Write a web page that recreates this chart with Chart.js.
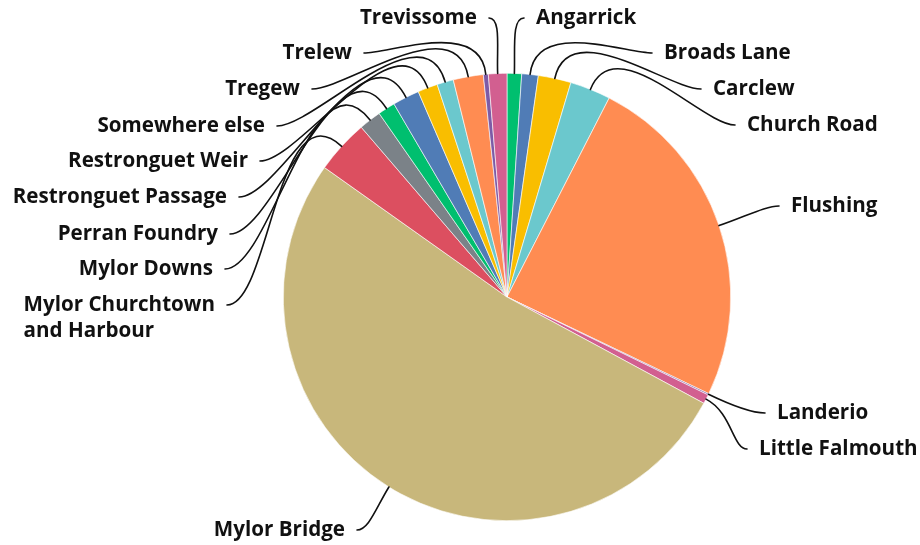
<!DOCTYPE html>
<html>
<head>
<meta charset="utf-8">
<script src="https://cdn.jsdelivr.net/npm/chart.js@4.4.0/dist/chart.umd.min.js"></script>
<style>
  html, body { margin: 0; padding: 0; background: #fff; }
  #wrap { width: 920px; height: 545px; position: relative; }
</style>
</head>
<body>
<div id="wrap"><canvas id="pie"></canvas></div>
<script>
/* ---- data (clockwise from 12 o'clock) ---- */
const categories = [
  'Angarrick', 'Broads Lane', 'Carclew', 'Church Road', 'Flushing',
  'Landerio', 'Little Falmouth', 'Mylor Bridge', 'Mylor Churchtown\nand Harbour',
  'Mylor Downs', 'Perran Foundry', 'Restronguet Passage', 'Restronguet Weir',
  'Somewhere else', 'Tregew', 'Trelew', 'Trevissome'
];
const shares = [
  1.05, 1.19, 2.37, 2.94, 24.56,
  0.1, 0.67, 51.94, 3.89,
  1.61, 1.25, 1.94, 1.44,
  1.19, 2.17, 0.36, 1.33
];

/* ---- styling ---- */
const sliceColors = [
  '#00bf6f', '#507cb6', '#f9be00', '#6bc8cd', '#ff8c52',
  '#7d5ba6', '#d25f90', '#c8b77b', '#dc4f60',
  '#7b8288', '#00bf6f', '#507cb6', '#f9be00',
  '#6bc8cd', '#ff8c52', '#7d5ba6', '#d25f90'
];

/* where each leader line ends: [x, y, side of the pie] */
const labelAnchors = [
  [524, 18, 'R'], [652, 53, 'R'], [701, 89, 'R'], [735, 125, 'R'], [779, 206, 'R'],
  [765, 413, 'R'], [747, 449, 'R'], [357, 530, 'L'], [227, 305, 'L'],
  [225, 269, 'L'], [230, 234, 'L'], [239, 197, 'L'], [260, 161, 'L'],
  [277, 126, 'L'], [312, 89, 'L'], [364, 53, 'L'], [489, 18, 'L']
];

const LABEL_FONT = '700 20.6px "Open Sans"';
const LABEL_GAP = 12;
const LINE_HEIGHT = 26;

/* leader lines + labels */
const outLabels = {
  id: 'outLabels',
  afterDatasetsDraw(chart) {
    const ctx = chart.ctx;
    const meta = chart.getDatasetMeta(0);
    ctx.save();
    ctx.font = LABEL_FONT;
    ctx.textBaseline = 'middle';
    ctx.fillStyle = '#111';
    ctx.strokeStyle = '#111';
    ctx.lineWidth = 1.6;
    ctx.lineCap = 'round';

    meta.data.forEach((arc, i) => {
      const p = arc.getProps(['x', 'y', 'startAngle', 'endAngle', 'outerRadius'], true);
      const mid = (p.startAngle + p.endAngle) / 2;
      const cos = Math.cos(mid), sin = Math.sin(mid);
      const x0 = p.x + cos * p.outerRadius;
      const y0 = p.y + sin * p.outerRadius;
      const [ax, ay, side] = labelAnchors[i];
      const dir = side === 'R' ? 1 : -1;
      const dist = Math.hypot(ax - x0, ay - y0);

      ctx.beginPath();
      ctx.moveTo(x0, y0);
      ctx.bezierCurveTo(
        x0 + cos * dist * 0.45, y0 + sin * dist * 0.45,
        ax - dir * dist * 0.22, ay,
        ax, ay
      );
      ctx.stroke();

      // text
      const lines = categories[i].split('\n');
      if (lines.length > 1) {
        const w = Math.max(...lines.map(l => ctx.measureText(l).width));
        const left = ax - LABEL_GAP - w;
        ctx.textAlign = 'left';
        lines.forEach((l, k) => ctx.fillText(l, left, ay + k * LINE_HEIGHT));
      } else {
        ctx.textAlign = side === 'R' ? 'left' : 'right';
        ctx.fillText(lines[0], ax + dir * LABEL_GAP, ay);
      }
    });
    ctx.restore();
  }
};

new Chart(document.getElementById('pie'), {
  type: 'pie',
  data: {
    labels: categories,
    datasets: [{
      data: shares,
      backgroundColor: sliceColors,
      borderColor: '#ffffff',
      borderWidth: 0.6,
    }],
  },
  options: {
    responsive: true,
    maintainAspectRatio: false,
    animation: false,
    layout: { padding: { top: 73, bottom: 24, left: 250, right: 156 } },
    plugins: {
      legend: { display: false },
      tooltip: { enabled: false },
    },
  },
  plugins: [outLabels],
});
</script>
</body>
</html>
